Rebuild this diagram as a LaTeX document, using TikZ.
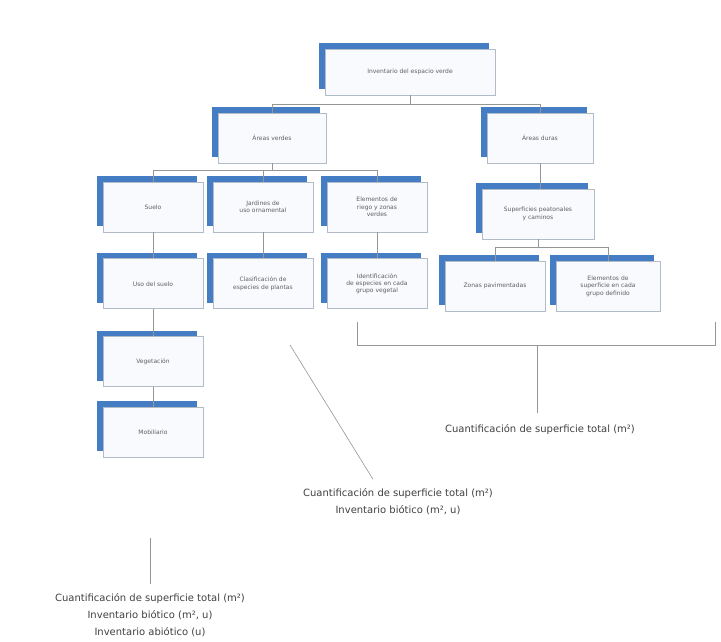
\documentclass[tikz,border=0pt]{standalone}
\usepackage{fontspec}
\setmainfont{DejaVu Sans}
\usetikzlibrary{positioning, shadows, calc}
\definecolor{acento}{RGB}{68,125,196}
\definecolor{marco}{RGB}{178,188,200}
\definecolor{relleno}{RGB}{248,250,254}
\definecolor{linea}{RGB}{150,150,150}
\definecolor{texto}{RGB}{95,95,95}

\begin{document}
\begin{tikzpicture}[
    x=1pt, y=1pt,
    caja/.style={draw=marco, fill=relleno, line width=0.8pt, minimum width=100pt, minimum height=50pt,
                 align=center, text=texto, font=\fontsize{6}{7.4}\selectfont,
                 general shadow={shadow xshift=-6pt, shadow yshift=6pt, fill=acento}},
    conn/.style={draw=linea, line width=0.6pt},
    nota/.style={font=\fontsize{10}{17}\selectfont, align=center, text=black!75},
]
\useasboundingbox (0,0) rectangle (721,642);
% === Raiz y primer nivel ===
\node[caja, minimum width=170pt, minimum height=46pt] (raiz) at (410,570) {Inventario del espacio verde};
\node[caja, minimum width=108pt] (natural) at (272,504) {Áreas verdes};
\node[caja, minimum width=106pt] (construido) at (540,504) {Áreas duras};
% === Rama izquierda ===
\node[caja] (suelo) at (153,435) {Suelo};
\node[caja] (jardines) at (263,435) {Jardines de\\uso ornamental};
\node[caja] (riego) at (377,435) {Elementos de\\riego y zonas\\verdes};
\node[caja, below=26 of suelo] (usosuelo) {Uso del suelo};
\node[caja, below=26 of jardines] (especies) {Clasificación de\\especies de plantas};
\node[caja, below=26 of riego] (ident) {Identificación\\de especies en cada\\grupo vegetal};
\node[caja, below=27 of usosuelo] (veget) {Vegetación};
\node[caja, below=20 of veget] (mobil) {Mobiliario};
% === Rama derecha ===
\node[caja, minimum width=112pt] (peatonal) at (538,428) {Superficies peatonales\\y caminos};
\node[caja] (pavim) at (495,356) {Zonas pavimentadas};
\node[caja, minimum width=104pt] (elem) at (608,356) {Elementos de\\superficie en cada\\grupo definido};
% === Conectores ===
\draw[conn] (raiz.south) -- ++(0,-9) -| (natural.north);
\draw[conn] (raiz.south) -- ++(0,-9) -| (construido.north);
\draw[conn] (natural.south) -- ++(0,-7) -| (suelo.north);
\draw[conn] (natural.south) -- ++(0,-7) -| (jardines.north);
\draw[conn] (natural.south) -- ++(0,-7) -| (riego.north);
\draw[conn] (suelo) -- (usosuelo);
\draw[conn] (jardines) -- (especies);
\draw[conn] (riego) -- (ident);
\draw[conn] (usosuelo) -- (veget);
\draw[conn] (veget) -- (mobil);
\draw[conn] (construido.south) -- (construido.south |- peatonal.north);
\draw[conn] (peatonal.south) -- ++(0,-8) -| (pavim.north);
\draw[conn] (peatonal.south) -- ++(0,-8) -| (elem.north);
% === Notas de cuantificación ===
\node[nota] (notader) at (540,212) {Cuantificación de superficie total (m²)};
\node[nota] (notamed) at (398,140) {Cuantificación de superficie total (m²)\\Inventario biótico (m², u)};
\node[nota] (notaizq) at (150,27) {Cuantificación de superficie total (m²)\\Inventario biótico (m², u)\\Inventario abiótico (u)};
% llave de la rama derecha
\coordinate (llaveA) at (357,320);
\coordinate (llaveB) at (715,320);
\coordinate (llaveC) at (537,297);
\draw[conn] (llaveA) -- (llaveA |- llaveC) -- (llaveB |- llaveC) -- (llaveB);
\draw[conn] (llaveC) -- ([yshift=8]notader.north -| llaveC);
% diagonal hacia la nota central
\coordinate (diagA) at (290,297);
\draw[conn] (diagA) -- ([xshift=-25,yshift=6]notamed.north);
% trazo corto sobre la nota izquierda
\coordinate (izqA) at (150,104);
\draw[conn] (izqA) -- ([yshift=6]notaizq.north);
\end{tikzpicture}
\end{document}
